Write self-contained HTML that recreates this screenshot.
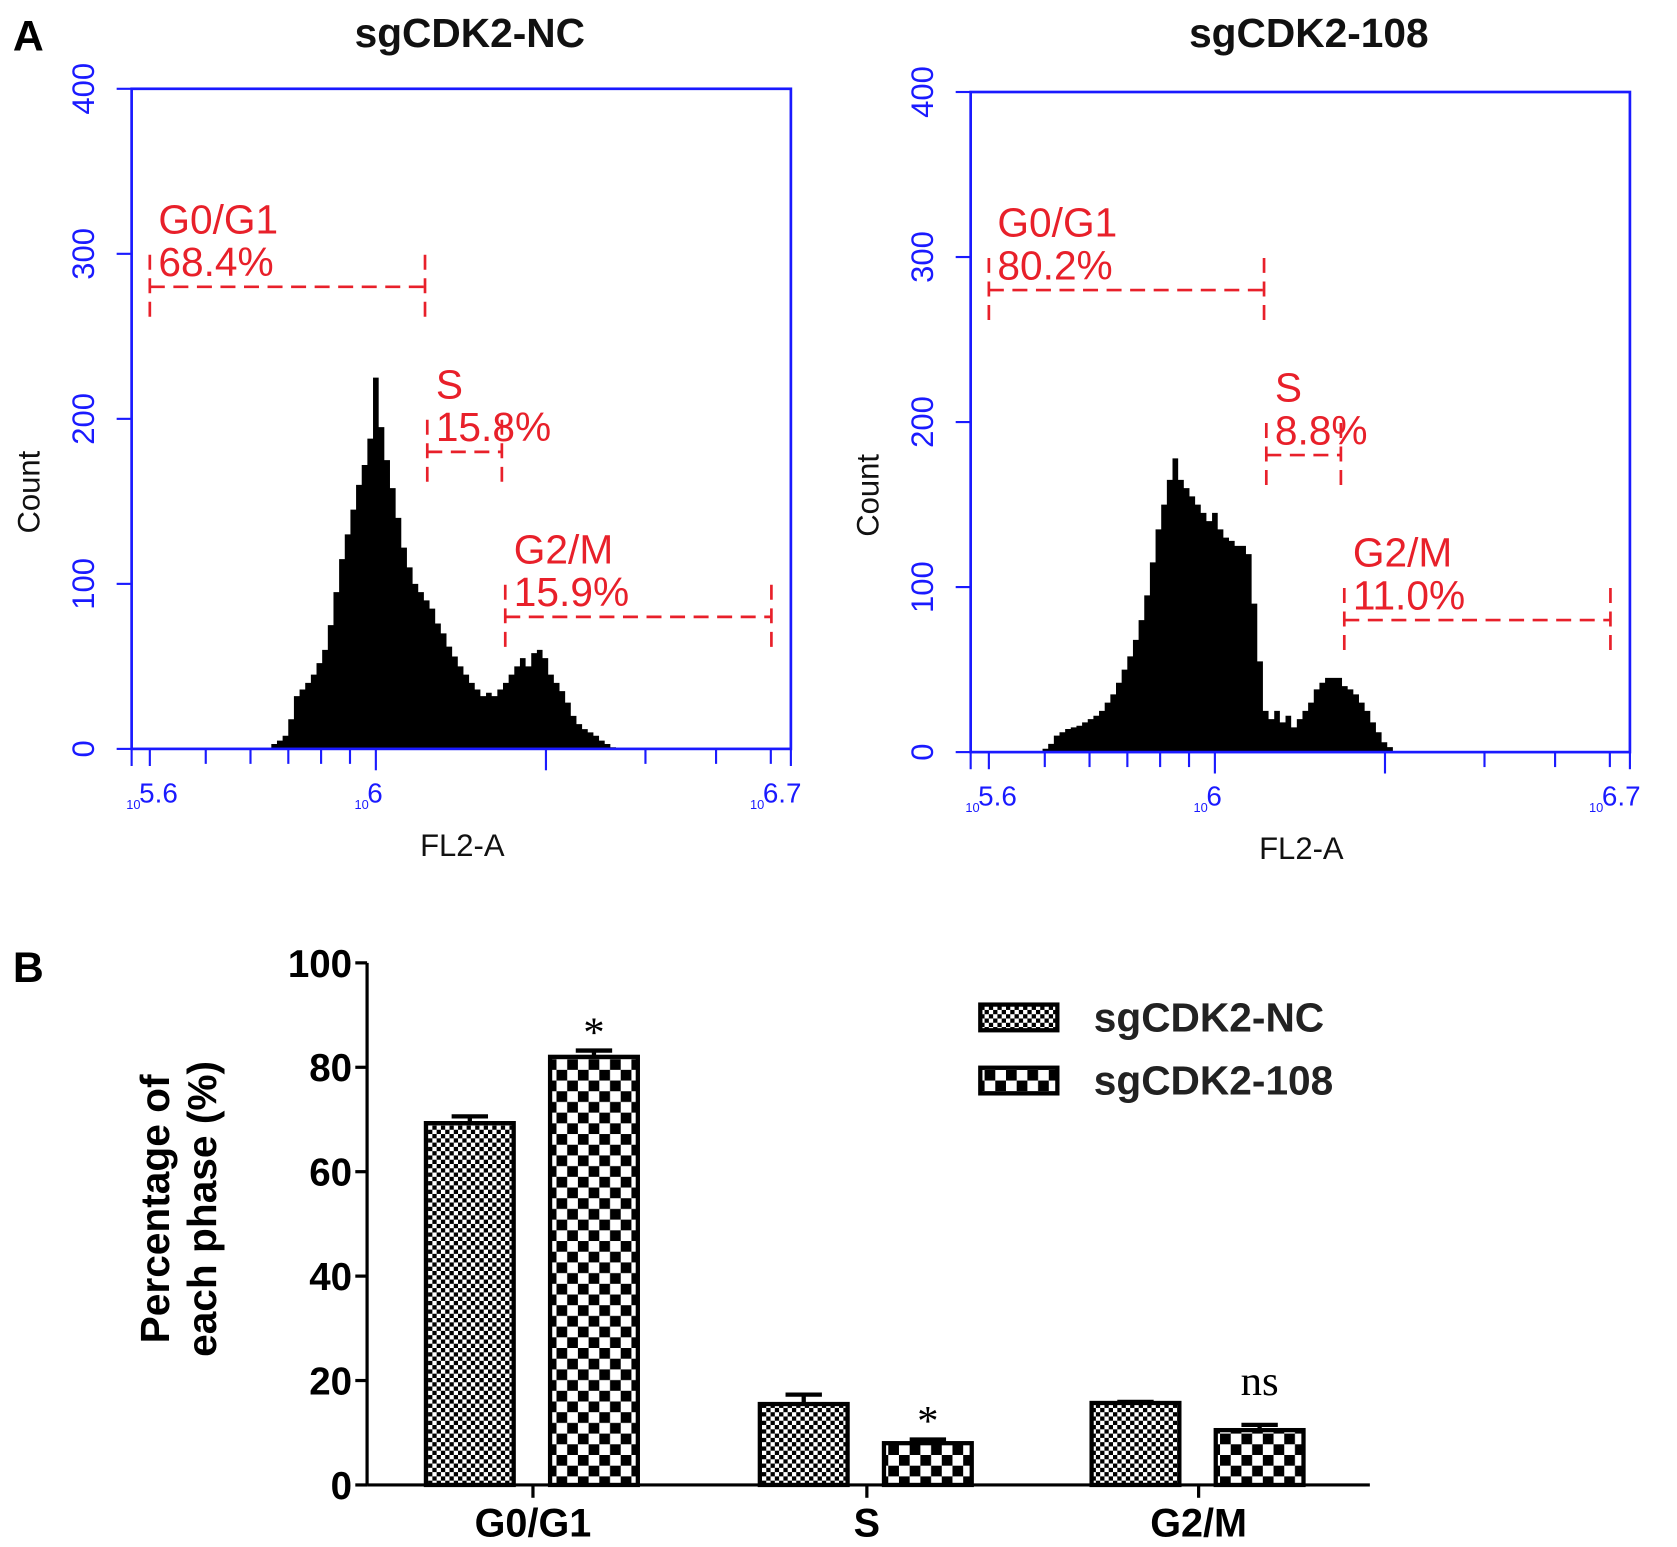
<!DOCTYPE html>
<html><head><meta charset="utf-8"><style>
html,body{margin:0;padding:0;background:#fff}
svg{display:block}
text{font-family:"Liberation Sans",sans-serif}
</style></head><body>
<svg id="fig" width="1677" height="1547" viewBox="0 0 1567 1446" preserveAspectRatio="none" xmlns="http://www.w3.org/2000/svg">
<defs>
<pattern id="pNC" width="8" height="8" patternUnits="userSpaceOnUse"><rect width="8" height="8" fill="#fff"/><rect width="4" height="4" fill="#000"/><rect x="4" y="4" width="4" height="4" fill="#000"/></pattern>
<pattern id="p108" width="20" height="20" patternUnits="userSpaceOnUse"><rect width="20" height="20" fill="#fff"/><rect width="10" height="10" fill="#000"/><rect x="10" y="10" width="10" height="10" fill="#000"/></pattern>
</defs>
<text x="12" y="47" font-size="40" font-weight="bold">A</text>
<text x="12" y="918" font-size="40" font-weight="bold">B</text>
<g id="hists"></g>
<g id="bars"></g>
</svg>
<script>
// ---- Panel A data ----
const binStart = 5.70, binStep = 0.01;
const countsNC = [0,0,0,0,0,0,0,0,0,0,0,0,3,5,8,18,32,36,40,45,52,60,75,95,115,130,145,160,172,188,225,195,175,158,140,122,110,100,95,90,85,76,70,62,56,50,45,40,36,32,34,32,36,40,45,50,55,50,58,60,55,45,40,35,28,20,15,12,10,8,5,3,1,0,0];
const counts108 = [2,5,10,12,14,15,16,18,20,22,25,30,35,42,50,58,68,80,95,115,135,150,165,178,165,160,155,150,145,140,145,135,130,128,125,125,120,90,55,25,20,25,18,22,15,20,25,30,38,42,45,45,45,40,38,35,30,25,18,12,6,3,0,0,0,0,0,0,0,0,0,0,0,0,0];
const yTicksA = [0,100,200,300,400];
const xMinorA = [5e5,6e5,7e5,8e5,9e5,1e6,2e6,3e6,4e6,5e6];
const histTitles = ["sgCDK2-NC","sgCDK2-108"];
const gateNames = ["G0/G1","S","G2/M"];
const gatePctNC = ["68.4%","15.8%","15.9%"];
const gatePct108 = ["80.2%","8.8%","11.0%"];
const gateRanges = [[5.6,6.087],[6.091,6.223],[6.229,6.7]];
const gateLevels = [280,180,80];

// ---- Panel B data ----
const categories = ["G0/G1","S","G2/M"];
const seriesNC = [69.3,15.5,15.7];
const errNC = [1.3,1.8,0.2];
const series108 = [82,8,10.5];
const err108 = [1.2,0.7,1.0];
const sigLabels = ["*","*","ns"];
const yTicksB = [0,20,40,60,80,100];

const NS="http://www.w3.org/2000/svg";
function mk(tag,attrs,parent,txt){const e=document.createElementNS(NS,tag);for(const k in attrs)e.setAttribute(k,attrs[k]);if(txt!==undefined)e.textContent=txt;parent.appendChild(e);return e;}

const H=document.getElementById('hists');
function drawHist(ox,oy,counts,pcts,title,tag){
  const L=ox+123,R=ox+739,T=oy+83,B=oy+700;
  const xs=v=>ox+140+(v-5.6)*528;
  const ys=c=>B-(c/400)*(B-T);
  const g=mk('g',{},H);
  
  
  const t=mk('text',{x:(L+R)/2+8,y:44,'font-size':38,'font-weight':'bold','text-anchor':'middle',fill:'#111'},g,title);
  
  
  let d='M'+xs(binStart-binStep/2)+','+B;
  counts.forEach((c,i)=>{const x0=xs(binStart+binStep*(i-0.5)),x1=xs(binStart+binStep*(i+0.5));d+=' L'+x0+','+ys(c)+' L'+x1+','+ys(c);});
  d+=' L'+xs(binStart+binStep*(counts.length-0.5))+','+B+' Z';
  const p=mk('path',{d:d,fill:'#000'},g);
  
  
  const f=mk('rect',{x:L,y:T,width:R-L,height:B-T,fill:'none',stroke:'#1a1aff','stroke-width':2.5},g);
  
  
  yTicksA.forEach(v=>{
    const y=ys(v);
    mk('line',{x1:L-14,x2:L,y1:y,y2:y,stroke:'#1a1aff','stroke-width':2},g);
    const lt=mk('text',{x:0,y:0,'font-size':29,fill:'#1a1aff','text-anchor':'middle',transform:'translate('+(ox+88)+','+y+') rotate(-90)'},g,String(v));
    
    
  });
  mk('line',{x1:xs(5.6),x2:xs(5.6),y1:B,y2:B+16,stroke:'#1a1aff','stroke-width':2},g);
  mk('line',{x1:L,x2:L,y1:B,y2:B+16,stroke:'#1a1aff','stroke-width':2},g);
  mk('line',{x1:R,x2:R,y1:B,y2:B+16,stroke:'#1a1aff','stroke-width':2},g);
  xMinorA.forEach(v=>{const x=xs(Math.log10(v));mk('line',{x1:x,x2:x,y1:B,y2:B+(v===1e6||v===2e6?20:14),stroke:'#1a1aff','stroke-width':2},g);});
  [[5.6,'5.6',-22],[6,'6',-20],[6.7,'6.7',-20]].forEach(a=>{
    const x=xs(a[0])+a[2];
    mk('text',{x:x,y:B+56,'font-size':12,fill:'#1a1aff'},g,'10');
    const lt=mk('text',{x:x+12,y:B+50,'font-size':26,fill:'#1a1aff'},g,a[1]);
    
    
  });
  const xt=mk('text',{x:ox+432,y:oy+800,'font-size':29,fill:'#111','text-anchor':'middle'},g,'FL2-A');
  
  
  const yt=mk('text',{x:0,y:0,'font-size':29,fill:'#111','text-anchor':'middle',transform:'translate('+(ox+37)+','+(oy+460)+') rotate(-90)'},g,'Count');
  
  
  gateRanges.forEach((r,i)=>{
    const x0=xs(r[0]),x1=xs(r[1]),y=ys(gateLevels[i]);
    const gg=mk('g',{stroke:'#e8202a','stroke-width':2.5,'stroke-dasharray':'14,8',fill:'none'},g);
    
    
    mk('line',{x1:x0,x2:x1,y1:y,y2:y},gg);
    mk('line',{x1:x0,x2:x0,y1:y-30,y2:y+28},gg);
    mk('line',{x1:x1,x2:x1,y1:y-30,y2:y+28},gg);
    const n=mk('text',{x:x0+8,y:y-50,'font-size':38,fill:'#e8202a'},g,gateNames[i]);
    
    
    const pc=mk('text',{x:x0+8,y:y-10,'font-size':38,fill:'#e8202a'},g,pcts[i]);
    
    
  });
}
drawHist(0,0,countsNC,gatePctNC,histTitles[0],'nc');
drawHist(784,3,counts108,gatePct108,histTitles[1],'108');

// ---- Panel B ----
const G=document.getElementById('bars');
const AX=343,BASE=1388,TOP=900,XR=1280;
const yB=v=>BASE-(v/100)*(BASE-TOP);
const catX=[498,810,1120];
const bw=82;
mk('line',{x1:AX,x2:AX,y1:TOP,y2:BASE,stroke:'#000','stroke-width':3},G);
mk('line',{x1:AX,x2:XR,y1:BASE,y2:BASE,stroke:'#000','stroke-width':3},G);
yTicksB.forEach(v=>{
  mk('line',{x1:AX-11,x2:AX,y1:yB(v),y2:yB(v),stroke:'#000','stroke-width':3},G);
  const t=mk('text',{x:AX-14,y:yB(v)+13,'font-size':36,'font-weight':'bold','text-anchor':'end'},G,String(v));
  
  
});
const yt=mk('g',{transform:'translate(170,1130) rotate(-90)'},G);


mk('text',{x:0,y:-12,'font-size':38,'font-weight':'bold','text-anchor':'middle'},yt,'Percentage of');
mk('text',{x:0,y:32,'font-size':38,'font-weight':'bold','text-anchor':'middle'},yt,'each phase (%)');
categories.forEach((c,i)=>{
  const cx=catX[i];
  mk('line',{x1:cx,x2:cx,y1:BASE,y2:BASE+12,stroke:'#000','stroke-width':3},G);
  const t=mk('text',{x:cx,y:1436,'font-size':37,'font-weight':'bold','text-anchor':'middle'},G,c);
  
  
  [[seriesNC,errNC,'#pNC',cx-100,'nc'],[series108,err108,'#p108',cx+16,'108']].forEach(s=>{
    const v=s[0][i],e=s[1][i],x=s[3];
    mk('line',{x1:x+bw/2,x2:x+bw/2,y1:yB(v),y2:yB(v+e),stroke:'#000','stroke-width':4},G);
    mk('line',{x1:x+bw/2-17,x2:x+bw/2+17,y1:yB(v+e),y2:yB(v+e),stroke:'#000','stroke-width':4},G);
    const r=mk('rect',{x:x,y:yB(v),width:bw,height:BASE-yB(v),fill:'url('+s[2]+')',stroke:'#000','stroke-width':4},G);
    
    
  });
  const top=yB(series108[i]+err108[i]);
  const sg=mk('text',{x:cx+16+bw/2,y:top-(sigLabels[i]==='ns'?28:4),'font-size':40,'text-anchor':'middle',style:'font-family:"Liberation Serif",serif'},G,sigLabels[i]);
  
  
});
const lg=mk('g',{},G);


[['#pNC','sgCDK2-NC',951],['#p108','sgCDK2-108',1010]].forEach(a=>{
  const r=mk('rect',{x:916,y:a[2]-12,width:72,height:24,fill:'url('+a[0]+')',stroke:'#000','stroke-width':4},lg);
  
  
  const t=mk('text',{x:1022,y:a[2]+13,'font-size':38,'font-weight':'bold',fill:'#222'},lg,a[1]);
  
  
});
</script>
</body></html>
